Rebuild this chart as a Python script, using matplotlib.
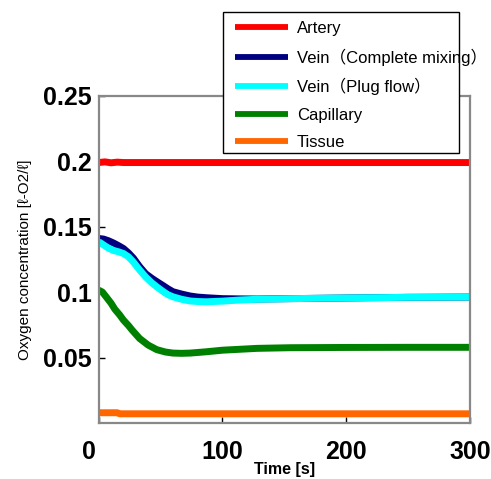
import numpy as np
import matplotlib
matplotlib.use("Agg")
import matplotlib.pyplot as plt
from matplotlib.patches import Rectangle
from matplotlib.transforms import ScaledTranslation

plt.rcParams['font.family'] = ['Liberation Sans', 'Noto Sans CJK JP', 'DejaVu Sans']

# values (time in s, concentration in l-O2/l)
t_artery = [0, 5, 10, 15, 20, 300]
artery = [0.1990, 0.1995, 0.1988, 0.1993, 0.1990, 0.1990]

t_vein = [0, 4, 8, 12, 16, 20, 24, 28, 33, 38, 43, 47, 52, 56, 60, 67, 74, 80, 87, 100,
          115, 128, 155, 200, 250, 300]
vein_mix = [0.1410, 0.1405, 0.1392, 0.1375, 0.1355, 0.1333, 0.1300, 0.1260, 0.1195, 0.1140,
            0.1105, 0.1080, 0.1050, 0.1025, 0.1003, 0.0985, 0.0970, 0.0962, 0.0957, 0.0950,
            0.0948, 0.0947, 0.0950, 0.0955, 0.0960, 0.0962]
vein_plug = [0.1385, 0.1360, 0.1335, 0.1318, 0.1308, 0.1295, 0.1270, 0.1230, 0.1170, 0.1115,
             0.1070, 0.1040, 0.1005, 0.0980, 0.0964, 0.0945, 0.0932, 0.0928, 0.0926, 0.0931,
             0.0940, 0.0945, 0.0950, 0.0955, 0.0960, 0.0962]

t_cap = [0, 3, 6, 10, 13, 17, 20, 24, 27, 33, 40, 47, 54, 60, 67, 74, 87, 100, 128, 155, 200,
         250, 300]
capillary = [0.1015, 0.1000, 0.0964, 0.0915, 0.0870, 0.0825, 0.0786, 0.0745, 0.0710, 0.0646,
             0.0595, 0.0560, 0.0542, 0.0534, 0.0532, 0.0534, 0.0544, 0.0556, 0.0570, 0.0575,
             0.0577, 0.0578, 0.0578]

t_tissue = [0, 15, 17, 300]
tissue = [0.0078, 0.0078, 0.0070, 0.0070]

series = [
    ("Artery", t_artery, artery, "#ff0000"),
    ("Vein（Complete mixing）", t_vein, vein_mix, "#000080"),
    ("Vein（Plug flow）", t_vein, vein_plug, "#00ffff"),
    ("Capillary", t_cap, capillary, "#008000"),
    ("Tissue", t_tissue, tissue, "#ff6600"),
]

W, H = 491, 479
fig = plt.figure(figsize=(W / 100, H / 100), dpi=100)
ax = fig.add_axes([0.201, 0.117, 0.756, 0.683])

for label, t, y, c in series:
    ax.plot(t, y, color=c, linewidth=5, label=label, solid_capstyle='butt')

ax.set_xlim(0, 300)
ax.set_ylim(0, 0.25)
ax.set_xticks([0, 100, 200, 300])
ax.set_xticklabels(['0', '100', '200', '300'])
ax.set_yticks([0.05, 0.1, 0.15, 0.2, 0.25])
ax.set_yticklabels(['0.05', '0.1', '0.15', '0.2', '0.25'])
ax.tick_params(axis='both', direction='in', labelsize=18, length=4, width=1, color='black')
ax.tick_params(axis='x', pad=12)
ax.tick_params(axis='y', pad=5)
for lbl in ax.get_xticklabels() + ax.get_yticklabels():
    lbl.set_fontweight('bold')
# the origin label sits a little left of the axis in the reference
zero = ax.get_xticklabels()[0]
zero.set_transform(zero.get_transform() + ScaledTranslation(-10 / 100, 0, fig.dpi_scale_trans))

for s in ax.spines.values():
    s.set_color('#888888')
    s.set_linewidth(1.6)

ax.set_xlabel('Time [s]', fontsize=11.5, fontweight='bold', labelpad=-1)
ax.set_ylabel('Oxygen concentration [ℓ-O2/ℓ]', fontsize=11, labelpad=8)

# legend entries without their own frame; the box is drawn separately because
# the longest label runs past it in the reference
box = Rectangle((223 / W, 1 - 153 / H), 236 / W, 141 / H, transform=fig.transFigure,
                facecolor='white', edgecolor='black', linewidth=1.0, clip_on=False, zorder=6)
ax.add_patch(box)
leg = ax.legend(loc='upper left', bbox_to_anchor=(235 / W, 1 - 21 / H),
                bbox_transform=fig.transFigure, fontsize=12, frameon=False,
                handlelength=3.2, handletextpad=0.52, labelspacing=0.74,
                borderpad=0, borderaxespad=0)
for line in leg.get_lines():
    line.set_linewidth(4.2)
leg.set_zorder(7)

fig.savefig('out.png', dpi=100)
